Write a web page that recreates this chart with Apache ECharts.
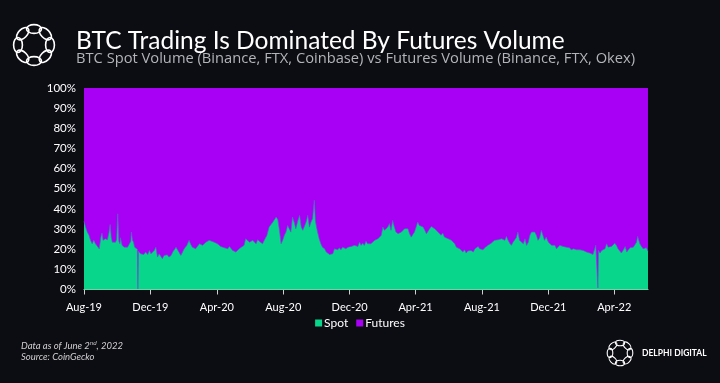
<!DOCTYPE html>
<html>
<head>
<meta charset="utf-8">
<script src="https://cdn.jsdelivr.net/npm/echarts@6/dist/echarts.min.js"></script>
<style>
html,body{margin:0;padding:0;background:#0c0c13;}
#chart{width:720px;height:383px;}
</style>
</head>
<body>
<div id="chart"></div>
<script>
// ---- data ----
const startDate = '2019-08-01';
// day offsets from startDate
const days = [0,3,6,9,12,15,18,21,24,28,31,33,35,39,43,46,48,50,52,55,58,60,62,64,66,67,70,74,77,80,83,86,87,89,91,93,96,98,99,100,102,104,107,110,113,117,120,123,126,129,132,135,138,141,144,147,150,153,156,160,163,166,169,172,
178,184,189,193,196,199,205,212,218,224,230,233,239,245,251,258,264,267,273,279,285,288,294,297,304,310,316,319,324,328,331,336,340,
347,353,356,359,362,365,368,371,374,377,380,383,386,389,393,396,399,402,405,408,411,414,417,420,423,425,427,429,432,435,438,442,445,448,451,454,457,460,463,466,469,472,475,478,481,485,488,491,494,497,500,503,506,509,512,515,518,521,
527,534,540,546,549,552,555,558,561,564,567,570,573,577,580,583,586,589,592,595,598,601,604,607,610,613,616,619,623,626,629,632,635,638,641,644,647,650,653,656,659,662,665,669,672,675,678,681,684,687,690,693,696,
699,702,705,708,711,715,718,721,724,727,730,733,736,739,742,745,748,751,754,757,761,764,767,770,773,776,779,782,785,788,791,794,797,800,803,807,810,813,816,819,822,825,828,831,834,837,840,843,846,849,853,856,859,862,865,868,871,
874,877,880,883,886,889,892,895,899,902,905,908,911,914,917,920,923,926,929,932,935,938,940,943,944,945,948,951,954,957,960,963,966,969,972,975,978,981,984,987,991,994,997,1000,1003,1006,1009,1012,1015,1017,1019,1021,1024,1027,1030,1033,1036];
// Spot share of total volume (%)
const spot = [33.8,31,28.5,27,24.4,22.7,24.4,22.7,21.9,20.2,26,28,24.4,25.2,24.7,28.5,32.3,26,23.5,24.4,23.5,25,37.6,24,22.7,25.7,21.9,21,20.2,21,21,24,28.5,24.5,23.5,21,21.9,20,0.3,19,18.6,17.7,18,17.4,18.6,17.4,19.4,17.7,16.9,19.4,21,16.1,17.7,16.9,15.3,16.9,16.1,17.2,16.1,16.9,18.6,19.4,21,20.2,
16.9,20.2,21.9,24.4,22.4,21,20.2,22.7,21.9,23.5,24.4,25.2,23.5,22.7,21.4,20.7,20.2,21.4,19.4,18.6,20.2,19.4,21.9,25.2,23.5,24.4,22.7,24.7,23.5,22.7,24.4,26.9,31,
33.5,36,34.7,29.4,22.7,24.4,26.9,28.5,31.8,30.2,28.5,36,33.5,30.2,34.3,36.8,31,29.4,30.2,33.5,36.8,31,33.5,35.2,44.3,34.3,31,28.5,25.2,22.7,21,20.2,18.6,17.7,17.4,16.9,17.7,20.2,19.4,19.7,20.7,19.7,21,21.9,20.2,21,20.7,21.4,20.7,21.9,22.7,21.4,23.5,21.9,23,21.9,24,22.7,
22.7,24.4,25.2,26.9,31,29.4,28.5,31,32.7,29.4,34.3,31,28.5,27.7,26.9,28.5,29.4,30.2,29.4,30.2,27.7,26,26.9,28.5,31,33.5,31.8,32.7,31,29.4,27.7,26.9,30.2,31.3,31,30.2,31,28.5,29.4,26.9,28,26,26.4,25.2,25.7,24.4,23.5,22.7,21,21.9,20.2,19.7,18.6,
19.7,18.1,19.1,18.6,19.4,18.6,20.2,19.7,21.4,20.2,20.7,19.7,20.7,21.4,21.9,22.4,23,23.5,24.4,24,24.7,24,25.2,25.7,24.4,26.4,24.4,23,21.9,23.5,24.4,25.7,28.5,24.4,23.5,22.7,25.2,21.9,23.5,26.9,28.5,29.4,28.5,26.9,24.4,25.7,29.4,26.9,24.4,26,23.5,22.7,21.9,21,21.9,20.2,21,
21.9,22.4,21.4,20.7,21,20.2,20.7,19.7,20.2,19.4,19.7,19.1,19.7,19.1,19.4,19.7,18.6,19.1,18.1,17.7,17.4,16.9,21.9,21,0.8,19.4,18.1,19.4,18.6,20.2,22.7,21,20.7,21.4,21.9,23,21.9,20.2,19.4,18.1,19.7,21.4,18.6,19.7,20.7,20.2,21,21.4,23.5,26.4,24.4,22.7,21.4,20.2,19.4,20.7,19];
// Futures share = remainder of 100%
const futures = spot.map(v => +(100 - v).toFixed(1));

const tickDates = ['2019-08-01','2019-12-01','2020-04-01','2020-08-01','2020-12-01','2021-04-01','2021-08-01','2021-12-01','2022-04-01'];
const tickLabels = ['Aug-19','Dec-19','Apr-20','Aug-20','Dec-20','Apr-21','Aug-21','Dec-21','Apr-22'];
const seriesNames = ['Spot','Futures'];
const endDate = '2022-06-02';

// ---- build ----
function ts(s){ const p = s.split('-').map(Number); return Date.UTC(p[0], p[1]-1, p[2]); }
const DAY = 86400000;
const t0 = ts(startDate);
const toDay = s => Math.round((ts(s) - t0) / DAY);
const tickDays = tickDates.map(toDay);
const lastDay = toDay(endDate);

const GREEN = '#08d68a', PURPLE = '#a800f5';

const chart = echarts.init(document.getElementById('chart'), null, {renderer:'canvas'});

function ringLogo(cx, cy, R, rx, ry, lw){
  const els = [];
  for (let i=0;i<8;i++){
    const a = i*Math.PI/4;
    els.push({
      type:'ellipse',
      x: cx + R*Math.cos(a), y: cy + R*Math.sin(a),
      rotation: -(a + Math.PI/2),
      shape:{cx:0, cy:0, rx:rx, ry:ry},
      style:{fill:'none', stroke:'#ffffff', lineWidth:lw}
    });
  }
  return els;
}

const option = {
  backgroundColor:'#0c0c13',
  animation:false,
  title:{
    text:'BTC Trading Is Dominated By Futures Volume',
    subtext:'BTC Spot Volume (Binance, FTX, Coinbase) vs Futures Volume (Binance, FTX, Okex)',
    left:71, top:24,
    itemGap:-3,
    textStyle:{color:'#ffffff', fontSize:24.5, fontWeight:'normal', fontFamily:'Lato'},
    subtextStyle:{color:'#b3b3ba', fontSize:14.7, fontFamily:'Open Sans'}
  },
  legend:{
    data:seriesNames,
    left:'center', top:312,
    icon:'rect', itemWidth:7, itemHeight:7, itemGap:8,
    textStyle:{color:'#ffffff', fontSize:12, fontFamily:'Lato', padding:[0,0,0,-3]}
  },
  grid:{left:84, right:72, top:88, bottom:93.5, show:true, backgroundColor:PURPLE, borderWidth:0},
  xAxis:{
    type:'value',
    min:0, max:lastDay,
    splitLine:{show:false},
    axisLine:{show:true, lineStyle:{color:'#d0d0d0', width:1}},
    axisTick:{show:true, length:5, lineStyle:{color:'#d0d0d0'}, customValues:tickDays},
    axisLabel:{
      color:'#ffffff', fontSize:11, fontFamily:'Lato', margin:12,
      customValues:tickDays,
      formatter:function(v){ const i = tickDays.indexOf(v); return i>=0 ? tickLabels[i] : ''; }
    }
  },
  yAxis:{
    type:'value', min:0, max:100, interval:10,
    splitLine:{show:false},
    axisLine:{show:false}, axisTick:{show:false},
    axisLabel:{color:'#ffffff', fontSize:11.5, fontFamily:'Lato', margin:8, formatter:'{value}%'}
  },
  series:[
    {
      name:seriesNames[0], type:'line', stack:'total', showSymbol:false, symbol:'none',
      color:GREEN, z:3,
      encode:{x:1, y:0},
      lineStyle:{width:0.8, color:'#5a5fc8', opacity:0.85},
      areaStyle:{color:GREEN, opacity:1},
      data: days.map((d,i)=>[spot[i], d])
    },
    {
      name:seriesNames[1], type:'line', stack:'total', showSymbol:false, symbol:'none',
      color:PURPLE, z:2,
      encode:{x:1, y:0},
      lineStyle:{width:0},
      areaStyle:{color:PURPLE, opacity:1},
      data: days.map((d,i)=>[futures[i], d])
    }
  ],
  graphic:[
    {type:'group', children: ringLogo(34, 45, 16, 7.5, 4.4, 1.6)},
    {type:'group', children: ringLogo(620, 353, 10, 4.6, 2.8, 1.1)},
    {type:'text', left:642, top:349, style:{text:'DELPHI DIGITAL', fill:'#ffffff', font:'bold 8.5px Lato'}},
    {type:'text', left:21, top:340, style:{
      text:'Data as of June 2{sup|nd}, 2022\nSource: CoinGecko',
      fill:'#d0d0d0', font:'italic 9.5px Lato', lineHeight:11.5,
      rich:{sup:{fontSize:6, fontStyle:'italic', fill:'#d0d0d0', verticalAlign:'top', padding:[0,0,4,0]}}
    }}
  ]
};
chart.setOption(option);
</script>
</body>
</html>
